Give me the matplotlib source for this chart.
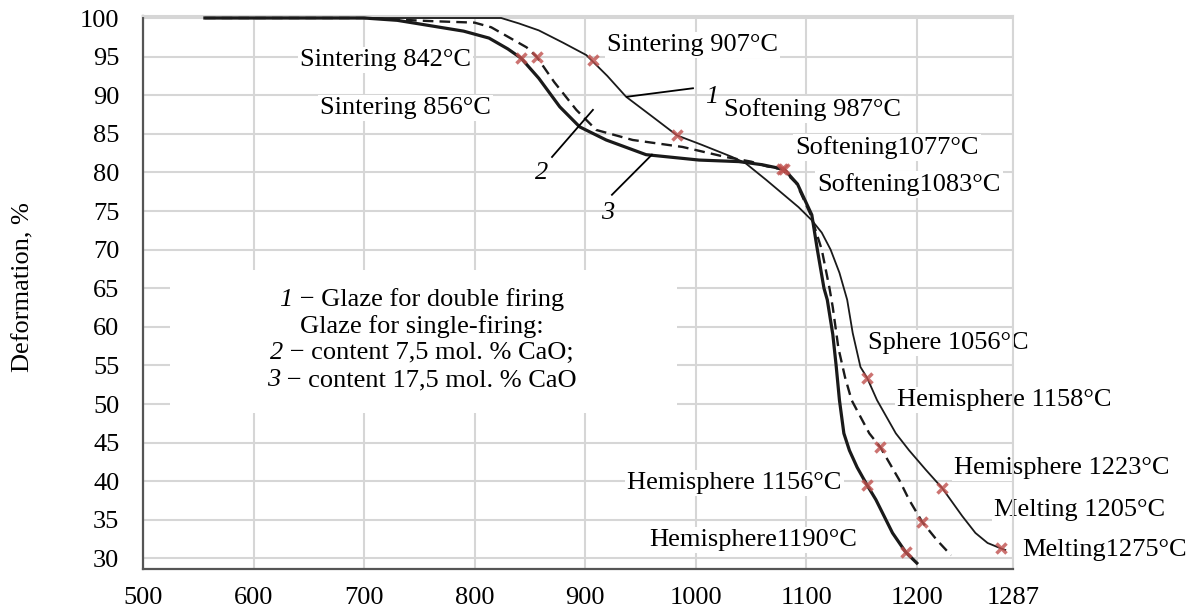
import matplotlib.pyplot as plt
from matplotlib.patches import Rectangle
from matplotlib.offsetbox import TextArea, HPacker, AnnotationBbox

plt.rcParams['font.family'] = ['Liberation Serif', 'DejaVu Serif']

# curve 1 - glaze for double firing
t1 = [556, 700, 824, 840, 858, 880, 901, 920, 937, 961, 983, 1005, 1033, 1045, 1064, 1093,
      1105, 1114, 1122, 1130, 1137, 1142, 1149, 1155, 1164, 1181, 1193, 1208, 1223, 1241,
      1253, 1264, 1276, 1280]
d1 = [100, 100, 100, 99.3, 98.4, 96.8, 95.2, 92.5, 89.8, 87.2, 84.8, 83.6, 82.0, 81.2, 79.0, 75.5,
      73.8, 72.2, 70.0, 67.0, 63.5, 59.2, 54.8, 53.4, 50.5, 46.2, 44.0, 41.5, 39.1, 35.5,
      33.3, 32.0, 31.3, 31.1]

# curve 2 - single firing, 7,5 mol. % CaO
t2 = [556, 700, 760, 800, 815, 831, 847, 856, 872, 892, 910, 943, 988, 1027, 1050, 1064, 1078,
      1091, 1104, 1114, 1121, 1124, 1129, 1135, 1141, 1157, 1167, 1184, 1193, 1205, 1218, 1231]
d2 = [100, 100, 99.6, 99.4, 98.8, 97.5, 96.2, 95.0, 91.7, 88.1, 85.5, 84.2, 83.3, 82.0, 81.4, 80.8, 80.4,
      78.6, 74.5, 70.0, 65.0, 62.5, 57.3, 53.5, 50.5, 46.2, 44.4, 40.2, 37.6, 34.7, 32.4, 30.4]

# curve 3 - single firing, 17,5 mol. % CaO
t3 = [556, 700, 730, 760, 790, 813, 830, 842, 858, 877, 895, 919, 955, 1003, 1039, 1060, 1080,
      1092, 1105, 1110, 1116, 1119, 1124, 1127, 1130, 1134, 1139, 1146, 1155, 1163, 1178, 1190, 1200]
d3 = [100, 100, 99.7, 99.0, 98.3, 97.4, 96.0, 94.8, 92.2, 88.5, 85.9, 84.2, 82.3, 81.6, 81.4, 81.0, 80.4,
      78.5, 74.5, 70.0, 65.0, 63.5, 59.0, 55.0, 50.5, 46.2, 44.0, 41.8, 39.5, 37.6, 33.3, 30.8, 29.4]

# characteristic points (red crosses)
mark_t = [907, 983, 1155, 1223, 1276, 856, 1078, 1167, 1205, 842, 1080, 1155, 1190]
mark_d = [94.6, 84.8, 53.4, 39.1, 31.3, 95.0, 80.4, 44.4, 34.7, 94.8, 80.4, 39.5, 30.8]

labels = ['Sintering 842°C', 'Sintering 856°C', 'Sintering 907°C', 'Softening 987°C',
          'Softening1077°C', 'Softening1083°C', 'Sphere 1056°C', 'Hemisphere 1158°C',
          'Hemisphere 1223°C', 'Melting 1205°C', 'Melting1275°C', 'Hemisphere 1156°C',
          'Hemisphere1190°C']
label_t = [642, 660, 920, 1026, 1090, 1110, 1156, 1182, 1234, 1270, 1295, 938, 958]
label_d = [94.6, 88.3, 96.5, 88.1, 83.2, 78.4, 57.9, 50.5, 41.7, 36.3, 31.1, 39.8, 32.4]

xticks = [500, 600, 700, 800, 900, 1000, 1100, 1200, 1287]
yticks = list(range(30, 101, 5))

FS = 19

fig = plt.figure(figsize=(11.91, 6.12), dpi=100)
ax = fig.add_axes([143 / 1191, 1 - 569 / 612, 870 / 1191, 553 / 612])
ax.set_xlim(500, 1287)
ax.set_ylim(28.63, 100.26)
ax.set_xticks(xticks)
ax.set_yticks(yticks)
ax.tick_params(length=0, labelsize=FS)
ax.tick_params(axis='y', pad=17)
ax.tick_params(axis='x', pad=13)
ax.grid(True, color='#d6d6d6', lw=1.5)
ax.set_axisbelow(True)
for s in ['top', 'right']:
    ax.spines[s].set_color('#d6d6d6')
    ax.spines[s].set_linewidth(1.5)
for s in ['left', 'bottom']:
    ax.spines[s].set_color('#555555')
    ax.spines[s].set_linewidth(1.6)

ax.plot(t1, d1, color='#1a1a1a', lw=1.3, zorder=3)
ax.plot(t2, d2, color='#1a1a1a', lw=1.7, dashes=(4.5, 2.6), zorder=3)
ax.plot(t3, d3, color='#1a1a1a', lw=2.3, zorder=3)
ax.plot(mark_t, mark_d, ls='none', marker='x', ms=7, mew=2.5, color='#c0504d', alpha=0.8, zorder=4)

for txt, x, y in zip(labels, label_t, label_d):
    ax.text(x, y, txt, fontsize=FS, ha='left', va='center', zorder=2, clip_on=False,
            bbox=dict(facecolor='white', edgecolor='none', pad=1.5))

# curve numbers with leader lines
ax.plot([937.8, 997.5], [89.8, 90.9], color='black', lw=1.3, zorder=3)
ax.plot([907, 870], [88.1, 82.0], color='black', lw=1.3, zorder=3)
ax.plot([960.4, 924.2], [82.3, 77.1], color='black', lw=1.3, zorder=3)
ax.text(1014.7, 89.8, '1', fontsize=FS, style='italic', ha='center', va='center')
ax.text(861, 79.9, '2', fontsize=FS, style='italic', ha='center', va='center')
ax.text(920.6, 74.7, '3', fontsize=FS, style='italic', ha='center', va='center')

# legend block
ax.add_patch(Rectangle((0.031, 0.282), 0.583, 0.259, transform=ax.transAxes,
                       facecolor='white', edgecolor='none', zorder=1))
legend_num = ['1', '', '2', '3']
legend_txt = [' − Glaze for double firing', 'Glaze for single-firing:',
              ' − content 7,5 mol. % CaO;', ' − content 17,5 mol. % CaO']
legend_y = [63.5, 60.0, 56.6, 53.1]
for num, txt, y in zip(legend_num, legend_txt, legend_y):
    parts = []
    if num:
        parts.append(TextArea(num, textprops=dict(fontsize=FS, style='italic')))
    parts.append(TextArea(txt, textprops=dict(fontsize=FS)))
    box = HPacker(children=parts, sep=0, pad=0, align='baseline')
    ab = AnnotationBbox(box, (752, y), frameon=False, box_alignment=(0.5, 0.5), zorder=2)
    ax.add_artist(ab)

fig.text(23 / 1191, 1 - 287 / 612, 'Deformation, %', fontsize=FS, rotation=90,
         ha='center', va='center')

fig.savefig('out.png', dpi=100)
